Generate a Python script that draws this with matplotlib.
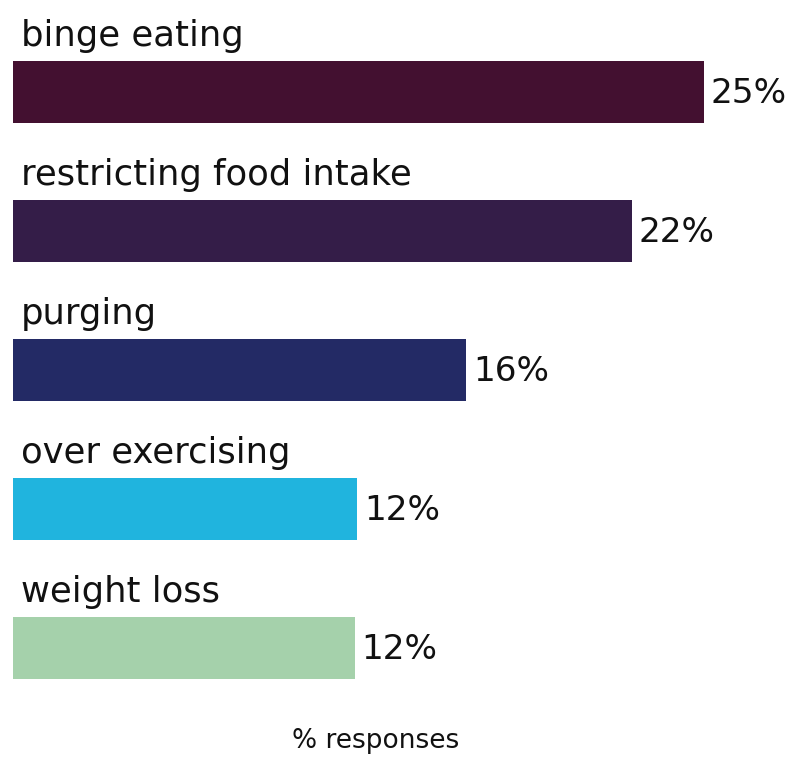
import matplotlib
matplotlib.use('Agg')
import matplotlib.pyplot as plt

categories = ['binge eating', 'restricting food intake', 'purging', 'over exercising', 'weight loss']
values = [25.0, 22.4, 16.4, 12.45, 12.37]
value_labels = ['25%', '22%', '16%', '12%', '12%']
colors = ['#431030', '#341d48', '#232a65', '#20b4de', '#a5d1ab']

plt.rcParams['font.family'] = ['DejaVu Sans']

fig = plt.figure(figsize=(8, 7.69), dpi=100)
ax = fig.add_axes([0, 0, 1, 1])

pos = list(range(len(categories)))
ax.barh(pos, values, height=0.446, color=colors)

for i, (cat, v, lab) in enumerate(zip(categories, values, value_labels)):
    ax.text(0.28, i - 0.331, cat, va='baseline', ha='left', fontsize=25.5, color='#111111')
    ax.text(v + 0.24, i + 0.076, lab, va='baseline', ha='left', fontsize=24.7, color='#111111')

ax.set_xlim(-0.47, 28.47)
ax.set_ylim(4.867, -0.665)
ax.axis('off')

fig.text(376 / 800, 1 - 748 / 769, '% responses', ha='center', va='baseline', fontsize=19, color='#111111')

fig.savefig('out.png', dpi=100)
